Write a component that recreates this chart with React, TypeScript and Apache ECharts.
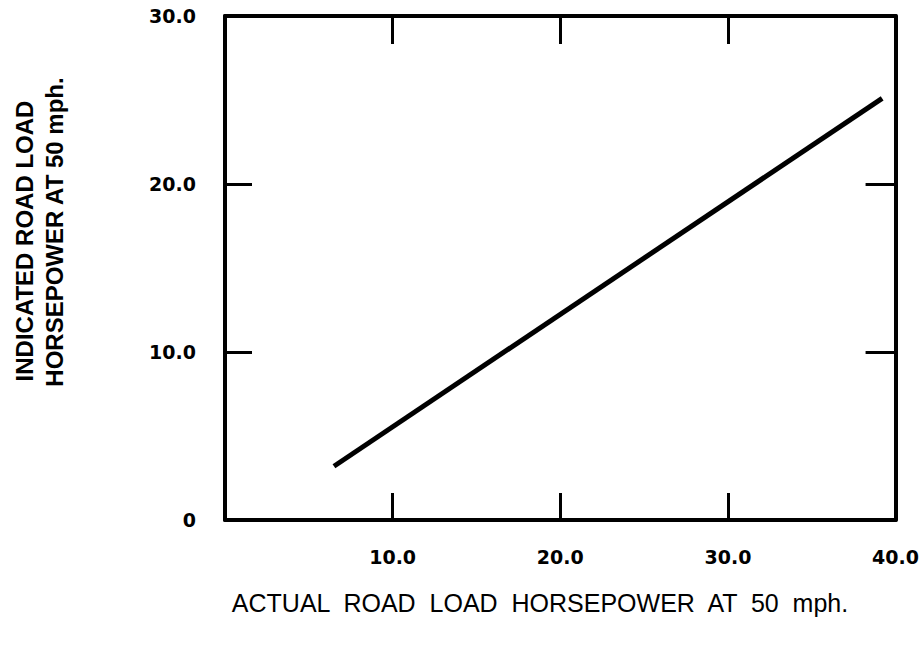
import React, { useEffect, useRef } from "react";
import * as echarts from "echarts";

const lineX = [6.5, 39.2];
const lineY = [3.2, 25.1];
const xTicks = [0, 10, 20, 30, 40];
const yTicks = [0, 10, 20, 30];
const xTitle = "ACTUAL  ROAD  LOAD  HORSEPOWER  AT  50  mph.";
const yTitle1 = "INDICATED ROAD LOAD";
const yTitle2 = "HORSEPOWER AT 50 mph.";

export default function App() {
  const ref = useRef<HTMLDivElement>(null);
  useEffect(() => {
    if (!ref.current) return;
    const chart = echarts.init(ref.current, null, { renderer: "svg" });
    const axisLine = { show: true, onZero: false, lineStyle: { color: "#000", width: 4 } };
    const tick = (len: number) => ({
      show: true,
      inside: true,
      length: len,
      lineStyle: { color: "#000", width: 3 },
    });
    const labelFont = {
      fontFamily: "DejaVu Sans",
      fontWeight: "bold" as const,
      fontSize: 19,
      color: "#000",
    };
    chart.setOption({
      animation: false,
      backgroundColor: "#fff",
      grid: { left: 225, right: 24, top: 16, bottom: 126 },
      xAxis: [
        {
          type: "value",
          position: "bottom",
          min: xTicks[0],
          max: xTicks[xTicks.length - 1],
          interval: 10,
          axisLine,
          axisTick: tick(27),
          splitLine: { show: false },
          axisLabel: {
            ...labelFont,
            margin: 27,
            showMaxLabel: true,
            formatter: (v: number) => (v === 0 ? "" : v.toFixed(1)),
          },
        },
        {
          type: "value",
          position: "top",
          min: xTicks[0],
          max: xTicks[xTicks.length - 1],
          interval: 10,
          axisLine,
          axisTick: tick(28),
          splitLine: { show: false },
          axisLabel: { show: false },
        },
      ],
      yAxis: [
        {
          type: "value",
          position: "left",
          min: yTicks[0],
          max: yTicks[yTicks.length - 1],
          interval: 10,
          axisLine,
          axisTick: tick(27),
          splitLine: { show: false },
          axisLabel: {
            ...labelFont,
            margin: 29,
            showMaxLabel: true,
            formatter: (v: number) => (v === 0 ? "0" : v.toFixed(1)),
          },
        },
        {
          type: "value",
          position: "right",
          min: yTicks[0],
          max: yTicks[yTicks.length - 1],
          interval: 10,
          axisLine,
          axisTick: tick(30),
          splitLine: { show: false },
          axisLabel: { show: false },
        },
      ],
      series: [
        {
          type: "line",
          xAxisIndex: 0,
          yAxisIndex: 0,
          data: lineX.map((x, i) => [x, lineY[i]]),
          symbol: "none",
          lineStyle: { color: "#000", width: 5 },
        },
      ],
      graphic: [
        {
          type: "text",
          x: 540,
          y: 603,
          style: {
            text: xTitle,
            fontFamily: "Liberation Sans",
            fontSize: 25,
            fill: "#000",
            align: "center",
            verticalAlign: "middle",
          },
        },
        {
          type: "text",
          x: 24,
          y: 241,
          rotation: Math.PI / 2,
          style: {
            text: yTitle1,
            fontFamily: "Liberation Sans",
            fontWeight: "bold",
            fontSize: 24,
            fill: "#000",
            align: "center",
            verticalAlign: "middle",
          },
        },
        {
          type: "text",
          x: 54,
          y: 232,
          rotation: Math.PI / 2,
          style: {
            text: yTitle2,
            fontFamily: "Liberation Sans",
            fontWeight: "bold",
            fontSize: 24,
            fill: "#000",
            align: "center",
            verticalAlign: "middle",
          },
        },
      ],
    });
    return () => chart.dispose();
  }, []);
  return (
    <div
      ref={ref}
      style={{ position: "fixed", left: 0, top: 0, width: 922, height: 646 }}
    />
  );
}
